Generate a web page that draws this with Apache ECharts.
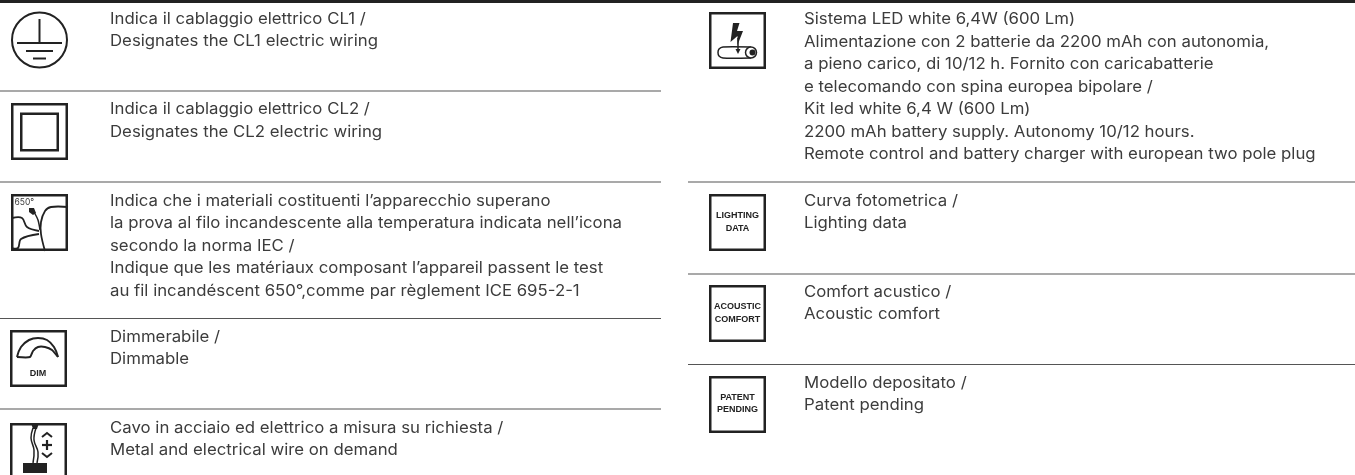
<!DOCTYPE html>
<html><head><meta charset="utf-8">
<style>html,body{margin:0;padding:0;background:#fff;overflow:hidden}#c{width:1355px;height:475px}</style>
<script src="https://cdn.jsdelivr.net/npm/echarts@6/dist/echarts.min.js"></script>
</head><body><div id="c"></div>
<script>
const leftRows = [
  ["Indica il cablaggio elettrico CL1 /", "Designates the CL1 electric wiring"],
  ["Indica il cablaggio elettrico CL2 /", "Designates the CL2 electric wiring"],
  ["Indica che i materiali costituenti l’apparecchio superano",
   "la prova al filo incandescente alla temperatura indicata nell’icona",
   "secondo la norma IEC /",
   "Indique que les matériaux composant l’appareil passent le test",
   "au fil incandéscent 650°,comme par règlement ICE 695-2-1"],
  ["Dimmerabile /", "Dimmable"],
  ["Cavo in acciaio ed elettrico a misura su richiesta /", "Metal and electrical wire on demand"]
];
const rightRows = [
  ["Sistema LED white 6,4W (600 Lm)",
   "Alimentazione con 2 batterie da 2200 mAh con autonomia,",
   "a pieno carico, di 10/12 h. Fornito con caricabatterie",
   "e telecomando con spina europea bipolare /",
   "Kit led white 6,4 W (600 Lm)",
   "2200 mAh battery supply. Autonomy 10/12 hours.",
   "Remote control and battery charger with european two pole plug"],
  ["Curva fotometrica /", "Lighting data"],
  ["Comfort acustico /", "Acoustic comfort"],
  ["Modello depositato /", "Patent pending"]
];
const iconLabels = {dim: ["DIM"], light: ["LIGHTING", "DATA"], acoustic: ["ACOUSTIC", "COMFORT"], patent: ["PATENT", "PENDING"]};
const heatLabel = "650°";

const INK = '#222', TXT = '#3c3c3c', RULE = '#555';
const FONT = 'Inter';
const SIZE = 15.5;
const WIDEN = 1.083;
const els = [];
const ln = (x1,y1,x2,y2,w,c) => els.push({type:'line',shape:{x1,y1,x2,y2},style:{stroke:c||INK,lineWidth:w||2}});
const box = (x,y,s,w) => els.push({type:'rect',shape:{x:x+1.25,y:y+1.25,width:s-2.5,height:s-2.5},style:{fill:'#fff',stroke:INK,lineWidth:w||2.5}});
const poly = (points,w,smooth) => els.push({type:'polyline',shape:{points,smooth:smooth||0},style:{fill:null,stroke:INK,lineWidth:w||1.8}});
const fill = (points) => els.push({type:'polygon',shape:{points},style:{fill:INK}});
const circ = (cx,cy,r,w,f) => els.push({type:'circle',shape:{cx,cy,r},style:{fill:f||'none',stroke:w?INK:null,lineWidth:w||0}});
const txt = (x,y,text,o,sx) => els.push({type:'text',x,y,scaleX:sx||1,style:Object.assign({text,fill:TXT,font:SIZE+'px '+FONT,verticalAlign:'middle',align:'left'},o||{})});
const label = (cx,ys,lines) => lines.forEach((t,i)=>txt(cx,ys[i],t,{font:'bold 9px "Liberation Sans"',fill:'#222',align:'center'}));

// rules
ln(0,1.5,1355,1.5,3,'#222');
[91,182,318.5,409].forEach(y=>ln(0,y,661,y,1.2,RULE));
[182,274,364.5].forEach(y=>ln(688,y,1355,y,1.2,RULE));

// body text
const lh = 22.5;
[19,109.5,201,337,428].forEach((y,i)=>leftRows[i].forEach((t,j)=>txt(110,y+j*lh,t,null,WIDEN)));
[19.5,201,292,383].forEach((y,i)=>rightRows[i].forEach((t,j)=>txt(804,y+j*lh,t,null,WIDEN)));

// CL1
circ(39.5,40,27.5,2);
ln(39.5,19,39.5,43); ln(17,43,62,43); ln(26,51,53,51); ln(33,58.5,46,58.5);
// CL2
box(11,103,57); box(20,112.5,39);
// 650
box(11,194,57);
txt(14.5,202.5,heatLabel,{font:'8.5px Inter'});
poly([[68,207],[51,207],[45,211],[41,222],[41,234],[45,251]],1.8,0.35);
poly([[12,218],[22,218],[27,227],[39,231]],1.8,0.35);
poly([[12,248],[18,248],[21,239],[39,234]],1.8,0.35);
poly([[34,212],[38,220],[40,230]],1.5,0.3);
fill([[29,208],[34,208],[36,213],[33,215],[29,212]]);
// DIM
box(10,330,57);
poly([[17,357],[21,347],[29,340],[38,338],[47,340],[54,347],[58,357]],2,0.4);
poly([[58,357],[52,350],[45,347],[38,347],[33,351],[30,357],[17,357]],2,0.2);
label(38,[374],iconLabels.dim);
// Cable
box(10,423,57);
fill([[31,423],[39,423],[37,429],[33,429]]);
poly([[33,428],[31,438],[34,450],[33,463]],1.5,0.4);
poly([[36,428],[34,440],[38,452],[37,463]],1.5,0.4);
els.push({type:'rect',shape:{x:23,y:463,width:24,height:10},style:{fill:INK}});
poly([[42,437],[47,433],[52,437]],2);
ln(42,445,52,445,2.2); ln(47,440,47,450,2.2);
poly([[42,453],[47,457],[52,453]],2);
// LED
box(709,12,57);
fill([[733,23],[739.5,23],[737,31],[743,31],[737.5,45],[737.5,36],[730.5,42]]);
ln(738,38,738,51,1.5);
fill([[735.5,49],[740.5,49],[738,54]]);
poly([[751,47],[723,47],[719,49],[718,52.5],[719,56],[723,58],[751,58]],1.5,0.2);
circ(751,52.5,5.5,1.5,'#fff');
circ(752.5,52.5,3,0,INK);
// text boxes
box(709,194,57); label(737.5,[216,229],iconLabels.light);
box(709,285,57); label(737.5,[307,319.5],iconLabels.acoustic);
box(709,376,57); label(737.5,[398,410],iconLabels.patent);

const chart = echarts.init(document.getElementById('c'),null,{renderer:'canvas'});
chart.setOption({animation:false,backgroundColor:'#fff',graphic:{elements:els}});
</script></body></html>
